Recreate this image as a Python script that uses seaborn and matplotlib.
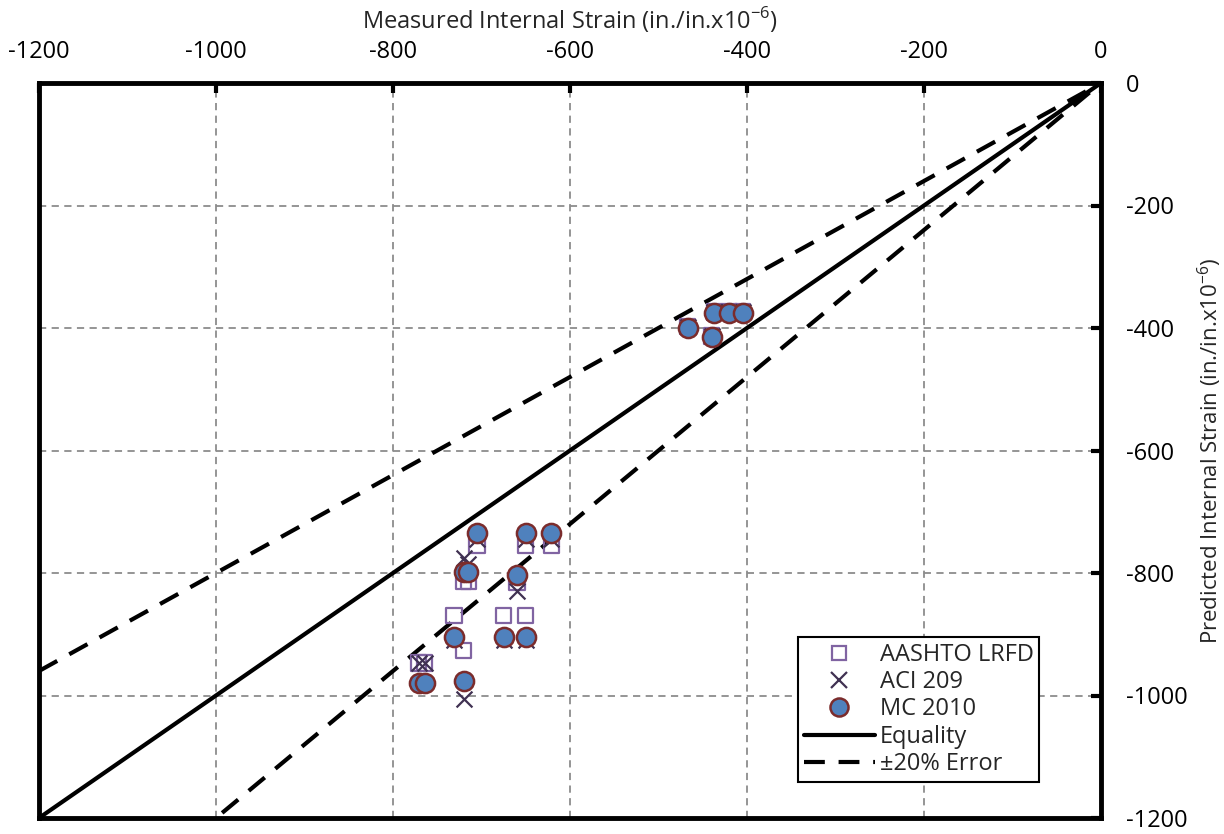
import numpy as np
import pandas as pd
import matplotlib
matplotlib.use("Agg")
import matplotlib.pyplot as plt
from matplotlib.lines import Line2D
import seaborn as sns

# Measured internal strain (in./in. x10^-6) for each gauge reading
measured = [-771, -764, -731, -720, -720, -715, -705, -675, -660, -650, -650, -621,
            -467, -437, -440, -420, -405]
# Predicted strains from each model
aashto = [-947, -947, -870, -927, -814, -814, -755, -870, -816, -755, -870, -755,
          -398, -374, -413, -374, -374]
aci209 = [-947, -947, -910, -1005, -776, -785, -745, -910, -830, -745, -910, -745,
          -398, -374, -413, -374, -374]
mc2010 = [-980, -980, -905, -976, -798, -798, -735, -905, -803, -735, -905, -735,
          -400, -376, -415, -376, -376]

series_names = ["AASHTO LRFD", "ACI 209", "MC 2010"]
ticks = [-1200, -1000, -800, -600, -400, -200, 0]
line_x = [-1200, 0]
error_band = 0.20

df = pd.DataFrame({
    "measured": measured * 3,
    "predicted": aashto + aci209 + mc2010,
    "model": sum([[n] * len(measured) for n in series_names], []),
})

sns.set_theme(style="white")
plt.rcParams["font.family"] = ["Open Sans", "DejaVu Sans"]
plt.rcParams["axes.unicode_minus"] = False
plt.rcParams["mathtext.fontset"] = "custom"
plt.rcParams["mathtext.rm"] = "Open Sans"

fig = plt.figure(figsize=(12.24, 8.34), dpi=100)
ax = fig.add_axes([39 / 1224, 1 - 818 / 834, 1062 / 1224, 735 / 834])

dash = (0, (5, 3.3))

# Reference lines: equality and +/-20% bounds
lx = np.array(line_x, dtype=float)
sns.lineplot(x=lx, y=lx, color="black", lw=3, ax=ax, zorder=2)
sns.lineplot(x=lx, y=lx * (1 - error_band), color="black", lw=3, ax=ax, zorder=2,
             linestyle=dash)
sns.lineplot(x=lx, y=lx * (1 + error_band), color="black", lw=3, ax=ax, zorder=2,
             linestyle=dash)

sq_col = "#8064A2"
x_col = "#403152"
c_face = "#4F81BD"
c_edge = "#7B2C2C"

sub = df[df.model == "AASHTO LRFD"]
sns.scatterplot(data=sub, x="measured", y="predicted", marker="s", s=120,
                facecolor="none", edgecolor=sq_col, linewidth=1.6, ax=ax, zorder=3)
sub = df[df.model == "ACI 209"]
sns.scatterplot(data=sub, x="measured", y="predicted", marker="x", s=130,
                color=x_col, linewidth=1.6, ax=ax, zorder=4)
sub = df[df.model == "MC 2010"]
sns.scatterplot(data=sub, x="measured", y="predicted", marker="o", s=190,
                facecolor=c_face, edgecolor=c_edge, linewidth=1.8, ax=ax, zorder=5)

ax.set_xlim(-1200, 0)
ax.set_ylim(-1200, 0)
ax.set_xticks(ticks)
ax.set_yticks(ticks)
ax.grid(True, color="#8C8C8C", linestyle=(0, (4, 3)), linewidth=1.3)
ax.set_axisbelow(True)

ax.xaxis.tick_top()
ax.xaxis.set_label_position("top")
ax.yaxis.tick_right()
ax.yaxis.set_label_position("right")
ax.tick_params(axis="both", direction="in", length=7, width=3, labelsize=17,
               colors="black")
ax.tick_params(axis="x", pad=14)
ax.tick_params(axis="y", pad=18)
for sp in ax.spines.values():
    sp.set_visible(True)
    sp.set_color("black")
    sp.set_linewidth(3.5)

ax.set_xlabel(r"Measured Internal Strain (in./in.x10$^{-6}$)", fontsize=17, labelpad=8)
ax.set_ylabel(r"Predicted Internal Strain (in./in.x10$^{-6}$)", fontsize=16,
              labelpad=6, rotation=90)

handles = [
    Line2D([], [], marker="s", ls="none", markersize=10, markerfacecolor="none",
           markeredgecolor=sq_col, markeredgewidth=1.6),
    Line2D([], [], marker="x", ls="none", markersize=11, color=x_col, markeredgewidth=1.6),
    Line2D([], [], marker="o", ls="none", markersize=13, markerfacecolor=c_face,
           markeredgecolor=c_edge, markeredgewidth=1.8),
    Line2D([], [], color="black", lw=3),
    Line2D([], [], color="black", lw=3, linestyle=dash),
]
labels = series_names + ["Equality", "\u00b120% Error"]
leg = ax.legend(handles, labels, loc="lower right", bbox_to_anchor=(0.942, 0.049),
                fontsize=17, frameon=True, fancybox=False, edgecolor="black",
                framealpha=1, handlelength=3.0, handletextpad=0.2,
                borderpad=0.25, labelspacing=0.14, borderaxespad=0)
leg.get_frame().set_linewidth(1.5)

fig.savefig("out.png", dpi=100)
